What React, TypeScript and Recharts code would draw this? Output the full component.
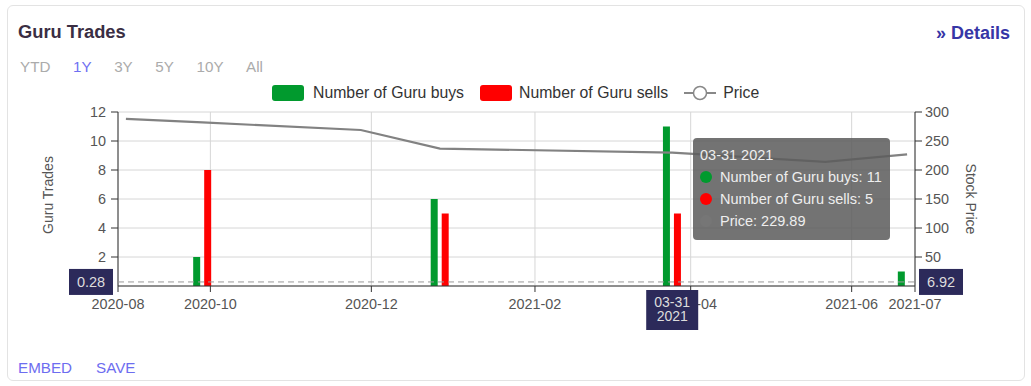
import { ComposedChart, Bar, Line, XAxis, YAxis, CartesianGrid, Tooltip, ReferenceLine } from "recharts"

// points (bar groups + price line vertices)
const pointDates = ["2020-08-30", "2020-09-28", "2020-11-27", "2020-12-27", "2021-03-25", "2021-05-22", "2021-06-22"]
const pointLabels = ["08-30 2020", "09-30 2020", "11-27 2020", "12-31 2020", "03-31 2021", "05-22 2021", "06-30 2021"]
const guruBuys = [null, 2, null, 6, 11, null, 1]
const guruSells = [null, 8, null, 5, 5, null, 0]
const stockPrice = [288, 282, 269, 237, 229.89, 214, 227]

const axisStart = "2020-08-27"
const axisEnd = "2021-06-25"
const tickDates = ["2020-08-27", "2020-10-01", "2020-12-01", "2021-02-01", "2021-04-01", "2021-06-01", "2021-06-25"]
const tickLabels = ["2020-08", "2020-10", "2020-12", "2021-02", "2021-04", "2021-06", "2021-07"]
// the 0 labels sit under the crosshair boxes in the original, so they are left out
const tradeTicks = [2, 4, 6, 8, 10, 12]
const priceTicks = [50, 100, 150, 200, 250, 300]
const rangeButtons = ["YTD", "1Y", "3Y", "5Y", "10Y", "All"]

const hoverIndex = 4
const crosshairTrades = "0.28"
const crosshairPrice = "6.92"

const toTime = (d) => Date.parse(d + "T00:00:00Z")

const data = pointDates.map((d, i) => ({
  t: toTime(d),
  label: pointLabels[i],
  buys: guruBuys[i],
  sells: guruSells[i],
  price: stockPrice[i],
}))
const tickValues = tickDates.map(toTime)
const xDomain = [toTime(axisStart), toTime(axisEnd)]

const FONT = "'Liberation Sans', Arial, Helvetica, sans-serif"
const GREEN = "#019a2e"
const RED = "#ff0000"
const NAVY = "#2c2a5a"

function formatTick(v) {
  const i = tickValues.indexOf(v)
  return i >= 0 ? tickLabels[i] : ""
}

function TradeTooltip({ active, payload }) {
  if (!active || !payload || !payload.length) return null
  const p = payload[0].payload
  const rows = [
    { color: GREEN, text: `Number of Guru buys: ${p.buys}` },
    { color: RED, text: `Number of Guru sells: ${p.sells}` },
    { color: "#767676", text: `Price: ${p.price}` },
  ]
  return (
    <div
      style={{
        width: 197,
        boxSizing: "border-box",
        background: "rgba(92,92,92,0.86)",
        borderRadius: 4,
        padding: "6px 7px 8px 7px",
        color: "#eee",
        fontFamily: FONT,
        fontSize: 14.5,
        lineHeight: "22px",
      }}
    >
      <div>{p.label}</div>
      {rows.map((r) => (
        <div key={r.text} style={{ display: "flex", alignItems: "center" }}>
          <span style={{ width: 12, height: 12, borderRadius: 6, background: r.color, marginRight: 8 }} />
          {r.text}
        </div>
      ))}
    </div>
  )
}

function ValueBoxes({ viewBox }) {
  if (!viewBox) return null
  const { x, y, width } = viewBox
  return (
    <g>
      <rect x={x - 49} y={y - 13} width={44} height={26} fill={NAVY} />
      <text x={x - 27} y={y + 5} textAnchor="middle" fill="#ddd" fontSize={14.5}>{crosshairTrades}</text>
      <rect x={x + width + 4} y={y - 13} width={44} height={26} fill={NAVY} />
      <text x={x + width + 26} y={y + 5} textAnchor="middle" fill="#ddd" fontSize={14.5}>{crosshairPrice}</text>
    </g>
  )
}

function DateBox({ viewBox }) {
  if (!viewBox) return null
  const { x, y, height } = viewBox
  const [md, yr] = pointLabels[hoverIndex].split(" ")
  const top = y + height + 4
  return (
    <g>
      <rect x={x - 26} y={top} width={52} height={40} fill={NAVY} />
      <text x={x} y={top + 17} textAnchor="middle" fill="#ddd" fontSize={14}>{md}</text>
      <text x={x} y={top + 31} textAnchor="middle" fill="#ddd" fontSize={14}>{yr}</text>
    </g>
  )
}

function LeftTitle({ viewBox }) {
  const cx = viewBox.x + 48
  const cy = viewBox.y + viewBox.height / 2 - 4
  return (
    <text x={cx} y={cy} transform={`rotate(-90 ${cx} ${cy})`} textAnchor="middle" dominantBaseline="central" fill="#555" fontSize={14}>
      Guru Trades
    </text>
  )
}

function RightTitle({ viewBox }) {
  const cx = viewBox.x + 56
  const cy = viewBox.y + viewBox.height / 2
  return (
    <text x={cx} y={cy} transform={`rotate(90 ${cx} ${cy})`} textAnchor="middle" dominantBaseline="central" fill="#555" fontSize={14}>
      Stock Price
    </text>
  )
}

const layer = { position: "absolute", left: 0, top: 0, width: 1031, height: 330 }

export default function App() {
  const tickStyle = { fill: "#555", fontSize: 14.4 }
  return (
    <div style={{ position: "absolute", left: 0, top: 0, width: 1031, height: 386, fontFamily: FONT, background: "#fff" }}>
      <div style={{ position: "absolute", left: 7, top: 5, width: 1018, height: 376, border: "1px solid #e3e3e3", borderRadius: 6, boxSizing: "border-box" }} />

      <div style={layer}>
        <ComposedChart width={1031} height={330} data={data} margin={{ top: 112, right: 0, bottom: 14, left: 0 }}>
          <CartesianGrid yAxisId="trades" stroke="#d6d6d6" />
          <XAxis
            dataKey="t"
            type="number"
            scale="linear"
            domain={xDomain}
            ticks={tickValues}
            interval={0}
            tickFormatter={formatTick}
            height={30}
            tickSize={6}
            tickMargin={7}
            tick={tickStyle}
            axisLine={{ stroke: "#333" }}
            tickLine={{ stroke: "#333" }}
          />
          <YAxis
            yAxisId="trades"
            orientation="left"
            width={118}
            domain={[0, 12]}
            ticks={tradeTicks}
            interval={0}
            tickSize={7}
            tickMargin={5}
            tick={tickStyle}
            axisLine={{ stroke: "#333" }}
            tickLine={{ stroke: "#333" }}
            label={(props) => <LeftTitle {...props} />}
          />
          <YAxis
            yAxisId="price"
            orientation="right"
            width={116}
            domain={[0, 300]}
            ticks={priceTicks}
            interval={0}
            tickSize={7}
            tickMargin={3}
            tick={tickStyle}
            axisLine={{ stroke: "#333" }}
            tickLine={{ stroke: "#333" }}
            label={(props) => <RightTitle {...props} />}
          />
          <Bar yAxisId="trades" dataKey="buys" name="Number of Guru buys" fill={GREEN} barSize={7} isAnimationActive={false} />
          <Bar yAxisId="trades" dataKey="sells" name="Number of Guru sells" fill={RED} barSize={7} isAnimationActive={false} />
          <Line yAxisId="price" dataKey="price" name="Price" stroke="#828282" strokeWidth={2.2} dot={false} activeDot={false} isAnimationActive={false} />
          <Tooltip
            active
            defaultIndex={hoverIndex}
            cursor={false}
            position={{ x: 693, y: 138 }}
            content={<TradeTooltip />}
            wrapperStyle={{ outline: "none" }}
            isAnimationActive={false}
          />
        </ComposedChart>
      </div>

      {/* crosshair layer drawn above the axes, same scales */}
      <div style={{ ...layer, pointerEvents: "none" }}>
        <ComposedChart width={1031} height={330} data={data} margin={{ top: 112, right: 116, bottom: 44, left: 118 }}>
          <XAxis dataKey="t" type="number" scale="linear" domain={xDomain} hide />
          <YAxis yAxisId="trades" domain={[0, 12]} hide />
          <Line yAxisId="trades" dataKey="buys" stroke="none" dot={false} activeDot={false} legendType="none" isAnimationActive={false} />
          <ReferenceLine
            yAxisId="trades"
            y={Number(crosshairTrades)}
            ifOverflow="visible"
            stroke="#999"
            strokeDasharray="6 4"
            label={(props) => <ValueBoxes {...props} />}
          />
          <ReferenceLine
            yAxisId="trades"
            x={data[hoverIndex].t}
            ifOverflow="visible"
            stroke="none"
            label={(props) => <DateBox {...props} />}
          />
        </ComposedChart>
      </div>

      <div style={{ position: "absolute", left: 18, top: 20, fontSize: 18.3, fontWeight: "bold", color: "#3a2e43", lineHeight: "24px" }}>Guru Trades</div>
      <div style={{ position: "absolute", right: 21, top: 21, fontSize: 18, fontWeight: "bold", color: "#3636a6", lineHeight: "24px" }}>» Details</div>
      <div style={{ position: "absolute", left: 20, top: 57, display: "flex", gap: 22.6, fontSize: 15.2, lineHeight: "20px" }}>
        {rangeButtons.map((b) => (
          <span key={b} style={{ color: b === "1Y" ? "#6f6ff2" : "#ababab" }}>{b}</span>
        ))}
      </div>

      <div style={{ position: "absolute", left: 272, top: 83, display: "flex", alignItems: "center", fontSize: 15.8, color: "#333", lineHeight: "20px" }}>
        <span style={{ width: 32, height: 16, borderRadius: 3, background: GREEN, marginRight: 9 }} />
        <span style={{ marginRight: 16 }}>Number of Guru buys</span>
        <span style={{ width: 32, height: 16, borderRadius: 3, background: RED, marginRight: 7 }} />
        <span style={{ marginRight: 16 }}>Number of Guru sells</span>
        <svg width={32} height={16} style={{ marginRight: 7 }}>
          <line x1={0} y1={8} x2={32} y2={8} stroke="#888" strokeWidth={2} />
          <circle cx={16} cy={8} r={6.5} fill="#fff" stroke="#888" strokeWidth={1.5} />
        </svg>
        <span>Price</span>
      </div>

      <div style={{ position: "absolute", left: 18, top: 358, display: "flex", gap: 24, fontSize: 15.2, color: "#6d6df0", lineHeight: "20px" }}>
        <span>EMBED</span>
        <span>SAVE</span>
      </div>
    </div>
  )
}
